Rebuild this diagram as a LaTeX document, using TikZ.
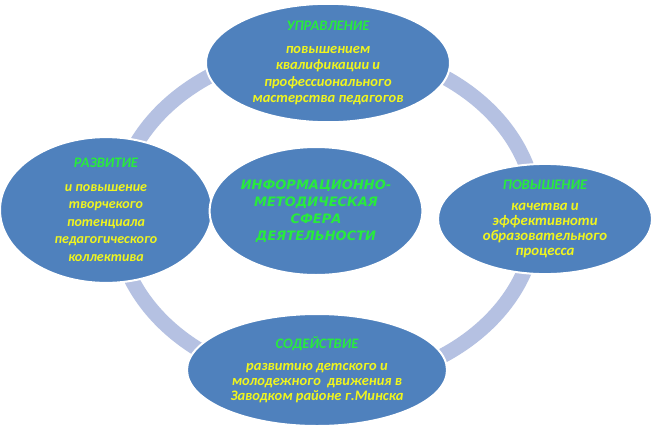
\documentclass[tikz,border=0pt]{standalone}
\usepackage{fontspec}
\setmainfont{Carlito}
\newfontfamily\dvsans{DejaVu Sans}
\usetikzlibrary{shapes.geometric}
\definecolor{ellblue}{RGB}{79,129,189}
\definecolor{ringcol}{RGB}{181,193,226}
\definecolor{ttlgreen}{RGB}{40,235,60}
\definecolor{txtyellow}{RGB}{240,245,30}
\tikzset{
  bubble/.style={ellipse, fill=ellblue, draw=white, line width=2pt, inner sep=0pt,
    align=center, text=txtyellow},
  bodyA/.style={font=\bfseries\itshape\fontsize{14.5}{16.5}\selectfont},
  ringpath/.style={draw=ringcol, line width=15pt},
}
\newcommand{\ttl}[1]{{\fontsize{14.5}{16}\selectfont\textcolor{ttlgreen}{#1}}}
\begin{document}
\begin{tikzpicture}[x=1pt,y=-1pt]
\fill[white] (0,0) rectangle (656,429);
\useasboundingbox (0,0) rectangle (656,429);
\draw[ringpath] (326,216) ellipse [x radius=210, y radius=168];
\node[bubble, bodyA, minimum width=244pt, minimum height=114pt] (upr) at (328,63)
  {\ttl{УПРАВЛЕНИЕ}\\[6pt]
   повышением\\квалификации и\\профессионального\\мастерства педагогов};
\node[bubble, font=\bfseries\itshape\fontsize{14}{17.5}\selectfont,
      minimum width=212pt, minimum height=122pt] (razv) at (106,210)
  {\ttl{РАЗВИТИЕ}\\[6pt]
   и повышение\\творчекого\\потенциала\\педагогического\\коллектива};
\node[bubble, text=ttlgreen, font=\dvsans\bfseries\itshape\fontsize{13}{17}\selectfont,
      minimum width=194pt, minimum height=128pt] (info) at (316,211)
  {ИНФОРМАЦИОННО-\\МЕТОДИЧЕСКАЯ\\СФЕРА\\ДЕЯТЕЛЬНОСТИ};
\node[bubble, font=\bfseries\itshape\fontsize{14.8}{15}\selectfont,
      minimum width=214pt, minimum height=106pt] (pov) at (545,219)
  {\ttl{ПОВЫШЕНИЕ}\\[6pt]
   качетва и\\эффективноти\\образовательного\\процесса};
\node[bubble, font=\bfseries\itshape\fontsize{14.5}{15}\selectfont,
      minimum width=260pt, minimum height=112pt] (sod) at (317,370)
  {\ttl{СОДЕЙСТВИЕ}\\[7pt]
   развитию детского и\\молодежного\ \ движения в\\Заводком районе г.Минска};
\end{tikzpicture}
\end{document}
